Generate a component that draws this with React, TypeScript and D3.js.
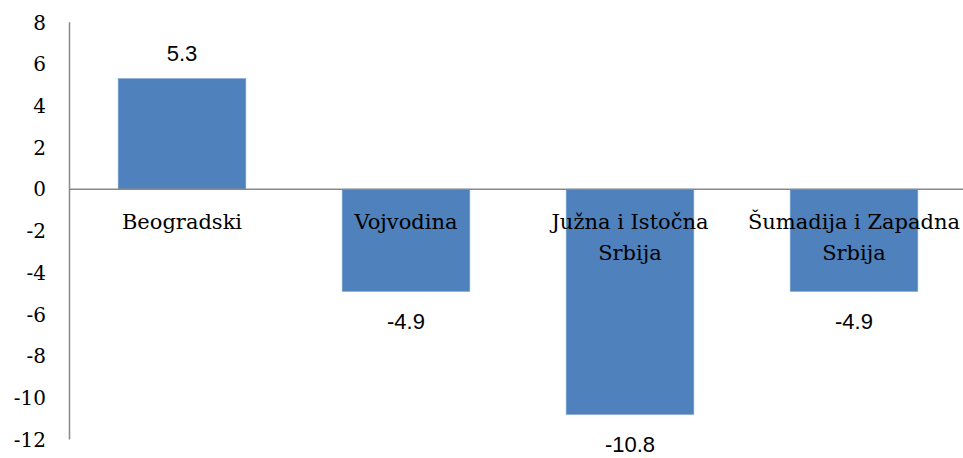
import React from "react";
import * as d3 from "d3";

const categories = ["Beogradski", "Vojvodina", "Južna i Istočna Srbija", "Šumadija i Zapadna Srbija"];
const categoryLines = [["Beogradski"], ["Vojvodina"], ["Južna i Istočna", "Srbija"], ["Šumadija i Zapadna", "Srbija"]];
const values = [5.3, -4.9, -10.8, -4.9];
const valueLabels = ["5.3", "-4.9", "-10.8", "-4.9"];
const yTicks = [8, 6, 4, 2, 0, -2, -4, -6, -8, -10, -12];

const W = 963;
const H = 458;

export default function App() {
  const x = d3.scaleBand<string>().domain(categories).range([70, 966]).paddingInner(0.43).paddingOuter(0.215);
  const y = d3.scaleLinear().domain([-12, 8]).range([439.5, 22.3]);
  const y0 = y(0);
  return (
    <svg width={W} height={H} style={{ position: "absolute", left: 0, top: 0, background: "#fff" }}>
      {categories.map((c, i) => {
        const v = values[i];
        const top = Math.min(y(v), y0);
        const h = Math.abs(y(v) - y0);
        return (
          <rect key={c} x={x(c)} y={top} width={x.bandwidth()} height={h} fill="#4f81bd" stroke="#7ea3d1" strokeWidth={0.6} />
        );
      })}
      <line x1={69.5} x2={69.5} y1={y(8)} y2={y(-12)} stroke="#898989" strokeWidth={1.5} />
      <line x1={69.5} x2={963} y1={y0} y2={y0} stroke="#898989" strokeWidth={1.5} />
      {yTicks.map((t) => (
        <text key={t} x={46} y={y(t)} dy="0.36em" textAnchor="end" style={{ fontFamily: "'DejaVu Serif'" }} fontSize={20} fill="#000">
          {t}
        </text>
      ))}
      {categories.map((c, i) => (
        <text key={c} textAnchor="middle" style={{ fontFamily: "'DejaVu Serif'" }} fontSize={21} fill="#000">
          {categoryLines[i].map((ln, j) => (
            <tspan key={j} x={(x(c) as number) + x.bandwidth() / 2} y={y0 + 39.5 + j * 31}>
              {ln}
            </tspan>
          ))}
        </text>
      ))}
      {categories.map((c, i) => {
        const v = values[i];
        const cx = (x(c) as number) + x.bandwidth() / 2;
        const yy = v >= 0 ? y(v) - 18 : y(v) + 38;
        return (
          <text key={c} x={cx} y={yy} textAnchor="middle" style={{ fontFamily: "'Liberation Sans'" }} fontSize={22} fill="#000">
            {valueLabels[i]}
          </text>
        );
      })}
    </svg>
  );
}
